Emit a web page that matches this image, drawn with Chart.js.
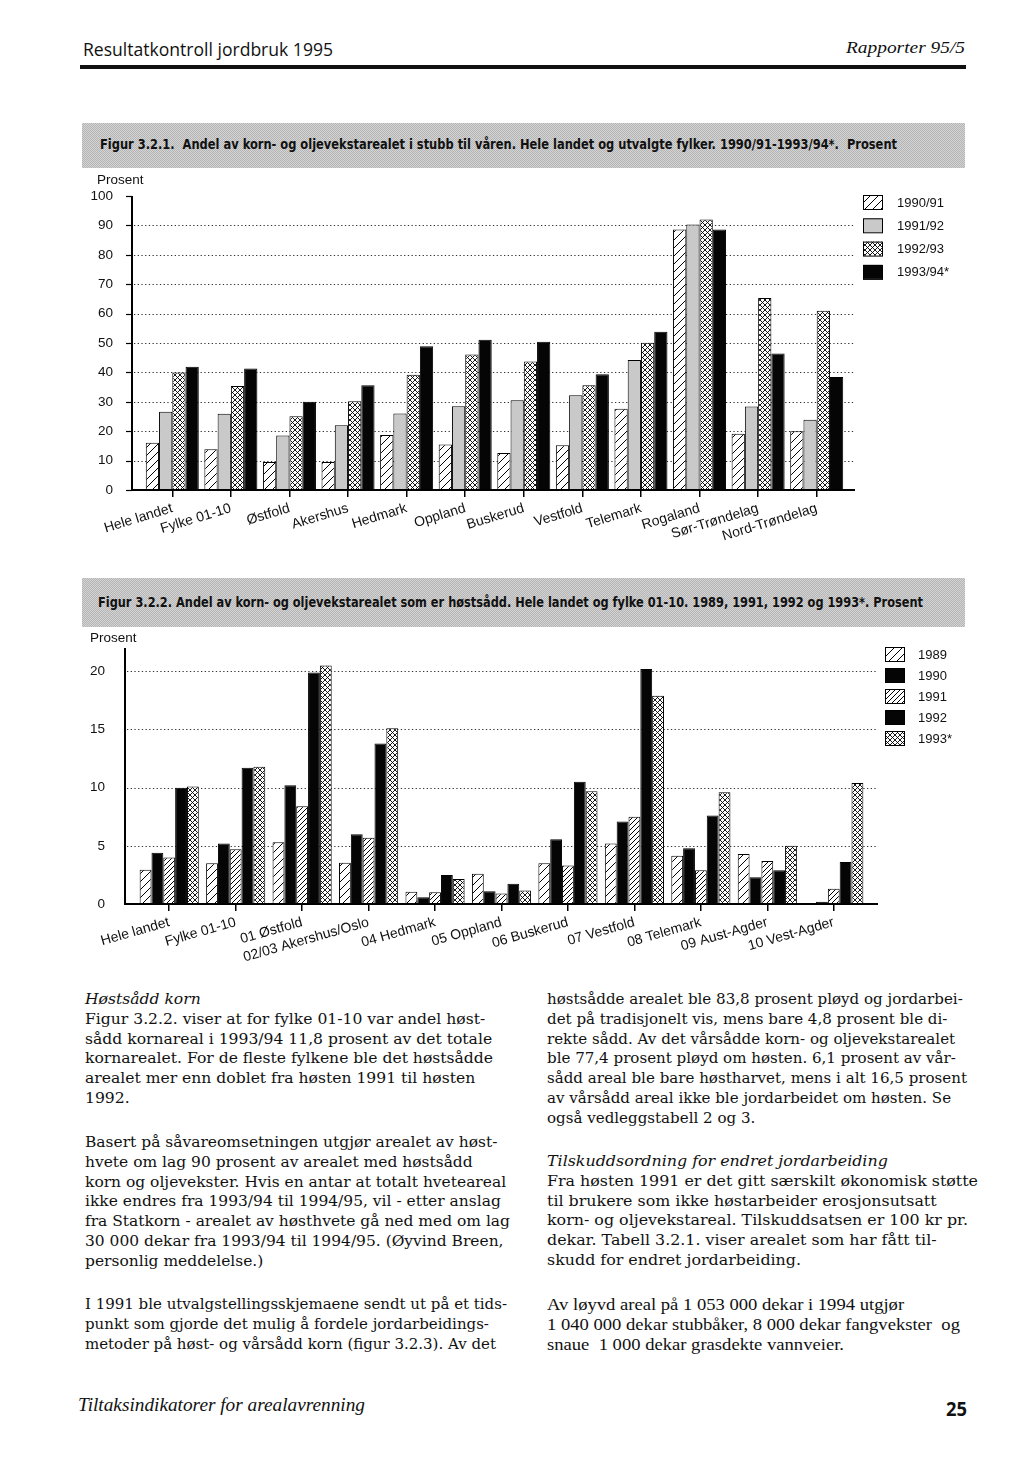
<!DOCTYPE html>
<html lang="no">
<head>
<meta charset="utf-8">
<title>Resultatkontroll jordbruk 1995</title>
<script src="https://cdn.jsdelivr.net/npm/chart.js@4/dist/chart.umd.min.js"></script>
<style>
  html, body { margin: 0; padding: 0; background: #fff; }
  #page { position: relative; width: 1024px; height: 1480px; overflow: hidden; color: #111; }
  .abs { position: absolute; white-space: pre; }
  .fit { display: inline-block; transform-origin: left center; }
  .band {
    position: absolute;
    background-color: #c4c4c4;
    background-image: conic-gradient(#b4b4b4 25%, #d4d4d4 0 50%, #b4b4b4 0 75%, #d4d4d4 0);
    background-size: 2px 2px;
  }
  .ftitle { font: bold 14px 'Liberation Sans Narrow', 'DejaVu Sans Condensed', 'Liberation Sans', sans-serif; color: #111; }
  .axlabel { font: 13.5px 'Liberation Sans', Arial, sans-serif; color: #111; }
  .txt { position: absolute; font: 15px/19.8px 'DejaVu Serif', serif; white-space: nowrap; color: #111; transform-origin: left top; }
  .txt.times { font: 17.5px/19.8px 'Liberation Serif', serif; }
  canvas { position: absolute; left: 0; }
</style>
</head>
<body>
<div id="page">
  <!-- sidehode -->
  <div class="abs" style="left:83px;top:37px;font:18px 'Open Sans',sans-serif;"><span class="fit" data-w="250">Resultatkontroll jordbruk 1995</span></div>
  <div class="abs" style="left:846px;top:38px;font:italic 17px 'Liberation Serif',serif;"><span class="fit" data-w="119">Rapporter 95/5</span></div>
  <div class="abs" style="left:80px;top:65px;width:886px;height:4px;background:#111;"></div>

  <!-- figur 3.2.1 -->
  <div class="band" style="left:82px;top:123px;width:883px;height:45px;"></div>
  <div class="abs ftitle" style="left:100px;top:136px;"><span class="fit" data-w="797">Figur 3.2.1.  Andel av korn- og oljevekstarealet i stubb til våren. Hele landet og utvalgte fylker. 1990/91-1993/94*.  Prosent</span></div>
  <canvas id="chart1" width="1024" height="390" style="top:170px;"></canvas>
  <div class="abs axlabel" style="left:97px;top:172px;z-index:2;">Prosent</div>

  <!-- figur 3.2.2 -->
  <div class="band" style="left:82px;top:578px;width:883px;height:49px;"></div>
  <div class="abs ftitle" style="left:98px;top:594px;"><span class="fit" data-w="825">Figur 3.2.2. Andel av korn- og oljevekstarealet som er høstsådd. Hele landet og fylke 01-10. 1989, 1991, 1992 og 1993*. Prosent</span></div>
  <canvas id="chart2" width="1024" height="350" style="top:630px;"></canvas>
  <div class="abs axlabel" style="left:90px;top:630px;z-index:2;">Prosent</div>

  <!-- brødtekst -->
  <div class="txt" data-w="408" style="left:85px;top:990px;"><i>Høstsådd korn</i><br>Figur 3.2.2. viser at for fylke 01-10 var andel høst-<br>sådd kornareal i 1993/94 11,8 prosent av det totale<br>kornarealet. For de fleste fylkene ble det høstsådde<br>arealet mer enn doblet fra høsten 1991 til høsten<br>1992.</div>
  <div class="txt" data-w="425" style="left:85px;top:1133px;">Basert på såvareomsetningen utgjør arealet av høst-<br>hvete om lag 90 prosent av arealet med høstsådd<br>korn og oljevekster. Hvis en antar at totalt hveteareal<br>ikke endres fra 1993/94 til 1994/95, vil - etter anslag<br>fra Statkorn - arealet av høsthvete gå ned med om lag<br>30 000 dekar fra 1993/94 til 1994/95. (Øyvind Breen,<br>personlig meddelelse.)</div>
  <div class="txt" data-w="422" style="left:85px;top:1295px;">I 1991 ble utvalgstellingsskjemaene sendt ut på et tids-<br>punkt som gjorde det mulig å fordele jordarbeidings-<br>metoder på høst- og vårsådd korn (figur 3.2.3). Av det</div>

  <div class="txt" data-w="420" style="left:547px;top:990px;">høstsådde arealet ble 83,8 prosent pløyd og jordarbei-<br>det på tradisjonelt vis, mens bare 4,8 prosent ble di-<br>rekte sådd.  Av det vårsådde korn- og oljevekstarealet<br>ble 77,4 prosent pløyd om høsten.  6,1 prosent av vår-<br>sådd areal ble bare høstharvet, mens i alt 16,5 prosent<br>av vårsådd areal ikke ble jordarbeidet om høsten. Se<br>også vedleggstabell 2 og 3.</div>
  <div class="txt" data-w="431" style="left:547px;top:1152px;"><i>Tilskuddsordning for endret jordarbeiding</i><br>Fra høsten 1991 er det gitt særskilt økonomisk støtte<br>til brukere som ikke høstarbeider erosjonsutsatt<br>korn- og oljevekstareal. Tilskuddsatsen er 100 kr pr.<br>dekar. Tabell 3.2.1. viser arealet som har fått til-<br>skudd for endret jordarbeiding.</div>
  <div class="txt times" data-w="413" style="left:547px;top:1295px;">Av løyvd areal på 1 053 000 dekar i 1994 utgjør<br>1 040 000 dekar stubbåker, 8 000 dekar fangvekster&nbsp; og<br>snaue&nbsp; 1 000 dekar grasdekte vannveier.</div>

  <!-- sidefot -->
  <div class="abs" style="left:78px;top:1395px;font:italic 18px 'Liberation Serif',serif;"><span class="fit" data-w="287">Tiltaksindikatorer for arealavrenning</span></div>
  <div class="abs" style="left:946px;top:1396px;font:bold 19px 'Open Sans',sans-serif;"><span class="fit" data-w="21">25</span></div>
</div>

<script>
// Figur 3.2.1 - andel i stubb til våren
const groups1 = ['Hele landet', 'Fylke 01-10', 'Østfold', 'Akershus', 'Hedmark', 'Oppland',
  'Buskerud', 'Vestfold', 'Telemark', 'Rogaland', 'Sør-Trøndelag', 'Nord-Trøndelag'];
const seasons1 = ['1990/91', '1991/92', '1992/93', '1993/94*'];
const stubb9091 = [16.1, 13.9, 9.5, 9.5, 18.7, 15.5, 12.6, 15.2, 27.6, 88.6, 19.1, 20.0];
const stubb9192 = [26.6, 25.9, 18.5, 22.0, 26.0, 28.5, 30.5, 32.2, 44.2, 90.3, 28.4, 23.9];
const stubb9293 = [40.0, 35.4, 25.1, 30.2, 39.2, 46.1, 43.7, 35.6, 50.1, 92.0, 65.3, 61.0];
const stubb9394 = [41.9, 41.3, 30.0, 35.6, 48.9, 51.1, 50.4, 39.4, 53.8, 88.6, 46.4, 38.4];
const yTicks1 = [0, 10, 20, 30, 40, 50, 60, 70, 80, 90, 100];

// Figur 3.2.2 - andel høstsådd
const groups2 = ['Hele landet', 'Fylke 01-10', '01 Østfold', '02/03 Akershus/Oslo', '04 Hedmark',
  '05 Oppland', '06 Buskerud', '07 Vestfold', '08 Telemark', '09 Aust-Agder', '10 Vest-Agder'];
const years2 = ['1989', '1990', '1991', '1992', '1993*'];
const host1989 = [2.95, 3.5, 5.3, 3.55, 1.06, 2.6, 3.5, 5.2, 4.15, 4.3, null];
const host1990 = [4.4, 5.2, 10.2, 6.0, 0.57, 1.1, 5.56, 7.1, 4.8, 2.3, 0.2];
const host1991 = [4.0, 4.7, 8.4, 5.7, 1.0, 0.9, 3.3, 7.5, 2.9, 3.7, 1.3];
const host1992 = [10.0, 11.7, 19.9, 13.8, 2.5, 1.75, 10.5, 20.2, 7.6, 2.9, 3.6];
const host1993 = [10.1, 11.8, 20.5, 15.1, 2.15, 1.15, 9.7, 17.9, 9.6, 5.0, 10.4];
const yTicks2 = [0, 5, 10, 15, 20];

// mønstre for søylene
function makePattern(kind) {
  const s = kind === 'hatch' ? 8 : 5;
  const c = document.createElement('canvas');
  c.width = c.height = s;
  const g = c.getContext('2d');
  g.fillStyle = '#fff';
  g.fillRect(0, 0, s, s);
  g.strokeStyle = '#000';
  g.lineWidth = kind === 'cross' ? 0.9 : 1;
  g.beginPath();
  for (const o of [-s, 0, s]) {
    g.moveTo(o, s);
    g.lineTo(o + s, 0);
    if (kind === 'cross') {
      g.moveTo(o, 0);
      g.lineTo(o + s, s);
    }
  }
  g.stroke();
  return g.createPattern(c, 'repeat');
}
const HATCH = makePattern('hatch');
const HATCH_DENSE = makePattern('dense');
const CROSS = makePattern('cross');
const GREY = '#c9c9c9';
const BLACK = '#050505';

// rutenett, akser og tegnforklaring
const framePlugin = {
  id: 'frame',
  beforeDatasetsDraw(chart, args, opts) {
    const { ctx } = chart;
    const y = chart.scales.y;
    ctx.save();
    ctx.strokeStyle = '#333';
    ctx.lineWidth = 1;
    ctx.setLineDash([1.3, 2.4]);
    opts.ticks.forEach(v => {
      if (v <= 0 || v >= y.max) return;
      const py = Math.round(y.getPixelForValue(v)) + 0.5;
      ctx.beginPath();
      ctx.moveTo(opts.axisX + 2, py);
      ctx.lineTo(opts.right, py);
      ctx.stroke();
    });
    ctx.restore();
  },
  afterDatasetsDraw(chart, args, opts) {
    const { ctx } = chart;
    const y = chart.scales.y;
    const top = y.getPixelForValue(y.max);
    const base = y.getPixelForValue(0);
    ctx.save();
    ctx.strokeStyle = '#000';
    ctx.lineWidth = 2;
    ctx.beginPath();
    ctx.moveTo(opts.axisX, top);
    ctx.lineTo(opts.axisX, base);
    ctx.moveTo(opts.axisX - 1, base);
    ctx.lineTo(opts.right, base);
    ctx.stroke();
    if (opts.leftTicks) {
      ctx.lineWidth = 1.2;
      opts.ticks.forEach(v => {
        const py = Math.round(y.getPixelForValue(v)) + 0.5;
        ctx.beginPath();
        ctx.moveTo(opts.axisX - 6, py);
        ctx.lineTo(opts.axisX, py);
        ctx.stroke();
      });
    }
    // tegnforklaring
    const lg = opts.legend;
    ctx.font = "13px 'Liberation Sans', Arial, sans-serif";
    ctx.textBaseline = 'middle';
    ctx.lineWidth = 1;
    chart.data.datasets.forEach((ds, i) => {
      const cy = lg.y + i * lg.dy;
      ctx.fillStyle = ds.backgroundColor;
      ctx.fillRect(lg.x, cy - lg.h / 2, lg.w, lg.h);
      ctx.strokeStyle = '#000';
      ctx.strokeRect(lg.x + 0.5, cy - lg.h / 2 + 0.5, lg.w, lg.h);
      ctx.fillStyle = '#111';
      ctx.fillText(ds.label, lg.textX, cy + 1);
    });
    ctx.restore();
  }
};

function barSet(label, data, fill) {
  return { label, data, backgroundColor: fill, borderColor: '#000', borderWidth: 1 };
}

function makeChart(id, cfg) {
  const tickFont = { family: "'Liberation Sans', Arial, sans-serif", size: 13.5 };
  return new Chart(document.getElementById(id), {
    type: 'bar',
    data: { labels: cfg.labels, datasets: cfg.datasets },
    plugins: [framePlugin],
    options: {
      responsive: false,
      animation: false,
      events: [],
      layout: { padding: cfg.padding },
      datasets: { bar: { categoryPercentage: cfg.catPct, barPercentage: 1 } },
      plugins: {
        legend: { display: false },
        tooltip: { enabled: false },
        frame: cfg.frame
      },
      scales: {
        x: {
          grid: { display: true, drawOnChartArea: false, drawTicks: true, tickLength: 7, offset: false, color: '#000', lineWidth: 1.5 },
          border: { display: false },
          ticks: {
            autoSkip: false, minRotation: cfg.rot, maxRotation: cfg.rot, padding: 3,
            color: '#111', font: { family: "'Liberation Sans', Arial, sans-serif", size: 14 }
          },
          afterFit(s) { s.height = cfg.xHeight; s.paddingLeft = 0; s.paddingRight = 0; }
        },
        y: {
          min: 0, max: cfg.yMax,
          grid: { display: false, drawTicks: false },
          border: { display: false },
          afterBuildTicks(s) { s.ticks = cfg.yTicks.map(v => ({ value: v })); },
          ticks: { padding: cfg.yPad, color: '#111', font: tickFont },
          afterFit(s) { s.width = cfg.yWidth; s.paddingTop = 0; s.paddingBottom = 0; }
        }
      }
    }
  });
}

// tilpass bredden på tekst til originalen
function fitTexts() {
  document.querySelectorAll('.fit').forEach(el => {
    const w = el.getBoundingClientRect().width;
    const target = parseFloat(el.dataset.w);
    if (w > 0) el.style.transform = 'scaleX(' + (target / w).toFixed(4) + ')';
  });
  document.querySelectorAll('.txt[data-w]').forEach(el => {
    const w = el.getBoundingClientRect().width;
    const target = parseFloat(el.dataset.w);
    if (w > 0) el.style.transform = 'scaleX(' + (target / w).toFixed(4) + ')';
  });
}

function initPage() {
  fitTexts();

  makeChart('chart1', {
    labels: groups1,
    datasets: [
      barSet(seasons1[0], stubb9091, HATCH),
      barSet(seasons1[1], stubb9192, GREY),
      barSet(seasons1[2], stubb9293, CROSS),
      barSet(seasons1[3], stubb9394, BLACK)
    ],
    padding: { left: 0, right: 178, top: 26, bottom: 0 },
    catPct: 0.905,
    rot: 17,
    xHeight: 70,
    yMax: 100,
    yTicks: yTicks1,
    yWidth: 143,
    yPad: 30,
    frame: {
      axisX: 132, right: 855, ticks: yTicks1, leftTicks: true,
      legend: { x: 863, y: 32, dy: 23.3, w: 19, h: 14, textX: 897 }
    }
  });

  makeChart('chart2', {
    labels: groups2,
    datasets: [
      barSet(years2[0], host1989, HATCH),
      barSet(years2[1], host1990, BLACK),
      barSet(years2[2], host1991, HATCH_DENSE),
      barSet(years2[3], host1992, BLACK),
      barSet(years2[4], host1993, CROSS)
    ],
    padding: { left: 0, right: 157, top: 18, bottom: 0 },
    catPct: 0.89,
    rot: 16,
    xHeight: 76,
    yMax: 22,
    yTicks: yTicks2,
    yWidth: 136,
    yPad: 31,
    frame: {
      axisX: 125, right: 878, ticks: yTicks2, leftTicks: false,
      legend: { x: 885, y: 24, dy: 21, w: 19, h: 14, textX: 918 }
    }
  });
}

document.addEventListener('DOMContentLoaded', initPage);
</script>
</body>
</html>
